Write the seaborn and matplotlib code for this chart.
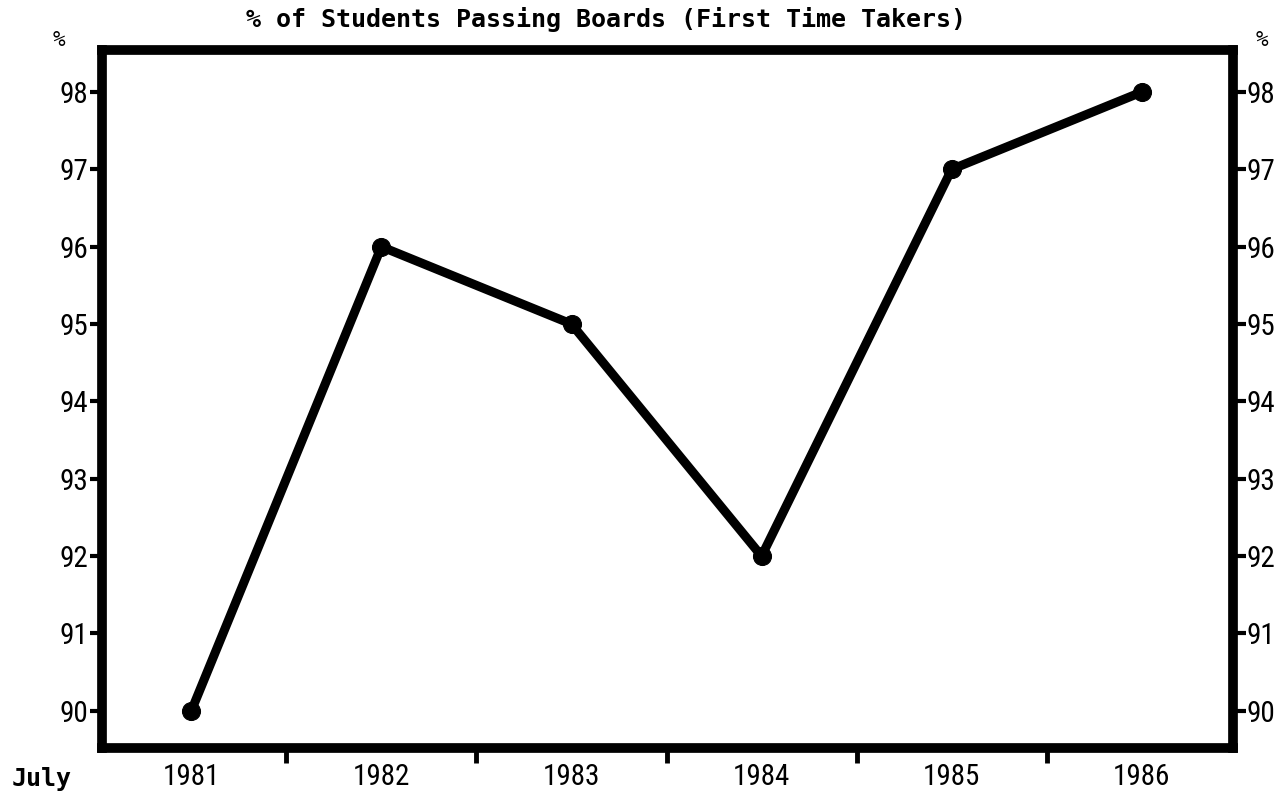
import matplotlib
matplotlib.use("Agg")
import matplotlib.pyplot as plt
from matplotlib import font_manager
import pandas as pd
import seaborn as sns

# données
years = ["1981", "1982", "1983", "1984", "1985", "1986"]
pass_rate = [90, 96, 95, 92, 97, 98]
y_ticks = [90, 91, 92, 93, 94, 95, 96, 97, 98]

df = pd.DataFrame({"pos": range(len(years)), "rate": pass_rate})

sns.set_style("white")
installed = {f.name for f in font_manager.fontManager.ttflist}
narrow = "DejaVu Sans"
for cand in ["Liberation Sans Narrow", "DejaVu Sans Condensed", "Roboto Condensed", "Roboto"]:
    if cand in installed:
        narrow = cand
        break
plt.rcParams["font.family"] = [narrow, "DejaVu Sans"]
plt.rcParams["text.color"] = "black"
plt.rcParams["xtick.color"] = "black"
plt.rcParams["ytick.color"] = "black"

fig = plt.figure(figsize=(12.86, 7.97), dpi=100)
ax = fig.add_axes([0.0793, 0.0615, 0.8795, 0.8755])

sns.lineplot(data=df, x="pos", y="rate", ax=ax, color="black", linewidth=6.5,
             marker="o", markersize=13, markeredgecolor="black")

ax.set_xlim(-0.47, 5.48)
ax.set_ylim(89.52, 98.54)
ax.set_xlabel("")
ax.set_ylabel("")

for s in ax.spines.values():
    s.set_visible(True)
    s.set_linewidth(7)
    s.set_color("black")
    s.set_capstyle("projecting")

ax.set_yticks(y_ticks)
ax.set_yticklabels([str(v) for v in y_ticks])
ax.tick_params(axis="y", left=True, right=True, labelleft=True, labelright=True,
               direction="out", length=9, width=3, pad=1, labelsize=21)

ax.set_xticks(range(len(years)))
ax.set_xticklabels(years)
ax.set_xticks([i + 0.5 for i in range(len(years) - 1)], minor=True)
ax.tick_params(axis="x", which="major", length=0, pad=11, labelsize=21)
ax.tick_params(axis="x", which="minor", bottom=True, direction="out", length=11, width=3.5)

fig.text(0.471, 0.975, "% of Students Passing Boards (First Time Takers)",
         ha="center", va="center", fontsize=18, weight="bold", family="DejaVu Sans Mono")
fig.text(0.009, 0.022, "July", ha="left", va="center", fontsize=18, weight="bold",
         family="DejaVu Sans Mono")
fig.text(0.046, 0.95, "%", ha="center", va="center", fontsize=15, family="DejaVu Sans Mono")
fig.text(0.981, 0.95, "%", ha="center", va="center", fontsize=15, family="DejaVu Sans Mono")

fig.savefig("out.png", dpi=100, facecolor="white")
